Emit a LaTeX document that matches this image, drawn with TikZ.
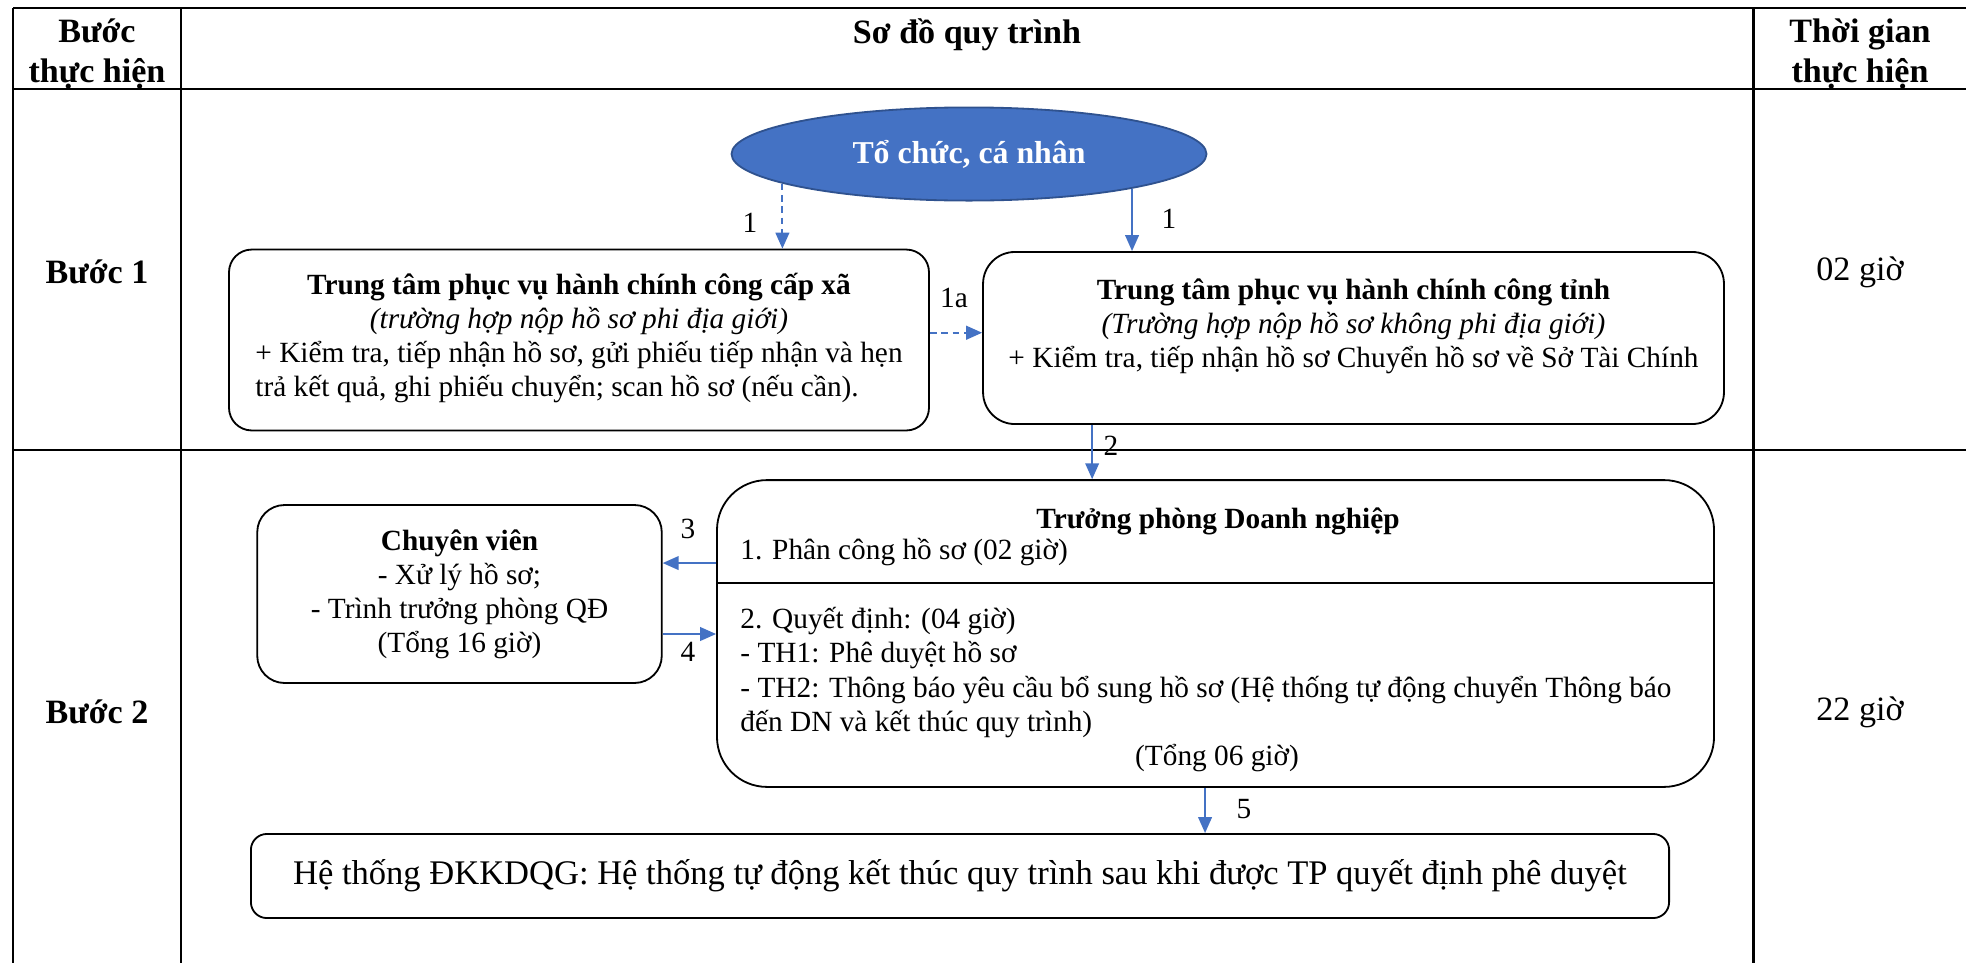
\documentclass[tikz,border=0pt]{standalone}
\usepackage{fontspec}
\setmainfont{Liberation Serif}
\usetikzlibrary{arrows.meta,shapes.geometric}

\definecolor{flowblue}{HTML}{4472C4}
\definecolor{rimblue}{HTML}{2F528F}

\begin{document}
\begin{tikzpicture}[
  x=0.44pt, y=-0.44pt,
  grid/.style={line width=1.3pt},
  box/.style={draw, line width=0.8pt, rounded corners=#1, align=center, inner sep=0pt,
    font=\fontsize{12.9}{15}\selectfont},
  box/.default=12pt,
  flow/.style={flowblue, line width=0.8pt, -{Triangle[length=7pt,width=6pt]}},
  link/.style={flow, line width=0.9pt, dash pattern=on 3pt off 2pt},
  num/.style={font=\fontsize{12.9}{15}\selectfont, inner sep=0pt},
  txt/.style={font=\fontsize{12.9}{15}\selectfont, inner sep=0pt},
  head/.style={font=\fontsize{15}{18}\selectfont\bfseries, align=center, inner sep=0pt},
  cell/.style={font=\fontsize{15}{18}\selectfont, inner sep=0pt}
]
\useasboundingbox (0,0) rectangle (1966,963);

% table frame
\draw[grid] (13,8) -- (1966,8);
\draw[grid] (13,89) -- (1966,89);
\draw[grid] (13,450) -- (1966,450);
\foreach \x in {13,181,1753}
  \draw[grid] (\x,8) -- (\x,963);

% header and step columns
\node[head] (hstep) at (97,54) {Bước\\thực hiện};
\node[head] (hflow) at (967,35) {Sơ đồ quy trình};
\node[head] (htime) at (1860,54) {Thời gian\\thực hiện};
\node[head] (step1) at (97,272) {Bước 1};
\node[cell] (time1) at (1860,272) {02 giờ};
\node[head] (step2) at (97,712) {Bước 2};
\node[cell] (time2) at (1860,712) {22 giờ};

% step 1
\node[ellipse, draw=rimblue, fill=flowblue, line width=0.8pt, minimum width=209pt,
  minimum height=41pt, text=white, font=\fontsize{14}{16}\selectfont\bfseries] (org) at (969,154) {Tổ chức, cá nhân};

\node[box=10pt, minimum width=308pt, minimum height=79.6pt] (cx) at (579,340)
  {\textbf{Trung tâm phục vụ hành chính công cấp xã}\\
   \textit{(trường hợp nộp hồ sơ phi địa giới)}\\
   \begin{tabular}[t]{@{}l@{}}+ Kiểm tra, tiếp nhận hồ sơ, gửi phiếu tiếp nhận và hẹn\\
   trả kết quả, ghi phiếu chuyển; scan hồ sơ (nếu cần).\end{tabular}};

\node[box=14pt, minimum width=326pt, minimum height=75.7pt] (tt) at (1353.5,338) {};
\node[txt, align=center] (tttext) at (1353.5,326)
  {\textbf{Trung tâm phục vụ hành chính công tỉnh}\\
   \textit{(Trường hợp nộp hồ sơ không phi địa giới)}\\
   + Kiểm tra, tiếp nhận hồ sơ Chuyển hồ sơ về Sở Tài Chính};

% step 2
\node[box=12pt, minimum width=178pt, minimum height=78.3pt] (cv) at (459.5,594)
  {\textbf{Chuyên viên}\\- Xử lý hồ sơ;\\- Trình trưởng phòng QĐ\\(Tổng 16 giờ)};

\node[box=22pt, minimum width=438.7pt, minimum height=135pt] (tp) at (1215.5,633.5) {};
\draw[line width=1.2pt] (tp.west |- 0,583) -- (tp.east |- 0,583);
\node[txt, font=\fontsize{12.9}{15}\selectfont\bfseries] (tphead) at (1218,521) {Trưởng phòng Doanh nghiệp};
\node[txt, anchor=west] (tpa) at (740,552) {1. Phân công hồ sơ (02 giờ)};
\node[txt, anchor=west, align=left] (tpb) at (740,672.5)
  {2. Quyết định: (04 giờ)\\- TH1: Phê duyệt hồ sơ\\
   - TH2: Thông báo yêu cầu bổ sung hồ sơ (Hệ thống tự động chuyển Thông báo\\
   đến DN và kết thúc quy trình)};
\node[txt] (tptot) at (1217,758) {(Tổng 06 giờ)};

\node[box=7pt, minimum width=624pt, minimum height=37pt,
  font=\fontsize{15.2}{17}\selectfont] (ht) at (960,876)
  {Hệ thống ĐKKDQG: Hệ thống tự động kết thúc quy trình sau khi được TP quyết định phê duyệt};

% connectors
\coordinate (c2) at ([xshift=48.4pt]tt.south west);
\coordinate (c3) at ([yshift=31pt]tp.west);
\coordinate (c4) at ([yshift=-17.6pt]cv.east);
\coordinate (c5) at ([xshift=-4.6pt]tp.south);
\coordinate (c1a) at ([yshift=3.2pt]cx.east);
\draw[link] (org.189.5) -- (org.189.5 |- cx.north);
\draw[flow] (org.348.5) -- (org.348.5 |- tt.north);
\draw[link] (c1a) -- (c1a -| tt.west);
\draw[flow] (c2) -- (c2 |- tp.north);
\draw[flow] (c3) -- (c3 -| cv.east);
\draw[flow] (c4) -- (c4 -| tp.west);
\draw[flow] (c5) -- (c5 |- ht.north);

% connector labels
\node[num] (n1l) at (750,223) {1};
\node[num] (n1r) at (1169,219) {1};
\node[num] (n1a) at (954,298) {1a};
\node[num] (n2) at (1111,446) {2};
\node[num] (n3) at (688,529) {3};
\node[num] (n4) at (688,652) {4};
\node[num] (n5) at (1244,809) {5};

\end{tikzpicture}
\end{document}
